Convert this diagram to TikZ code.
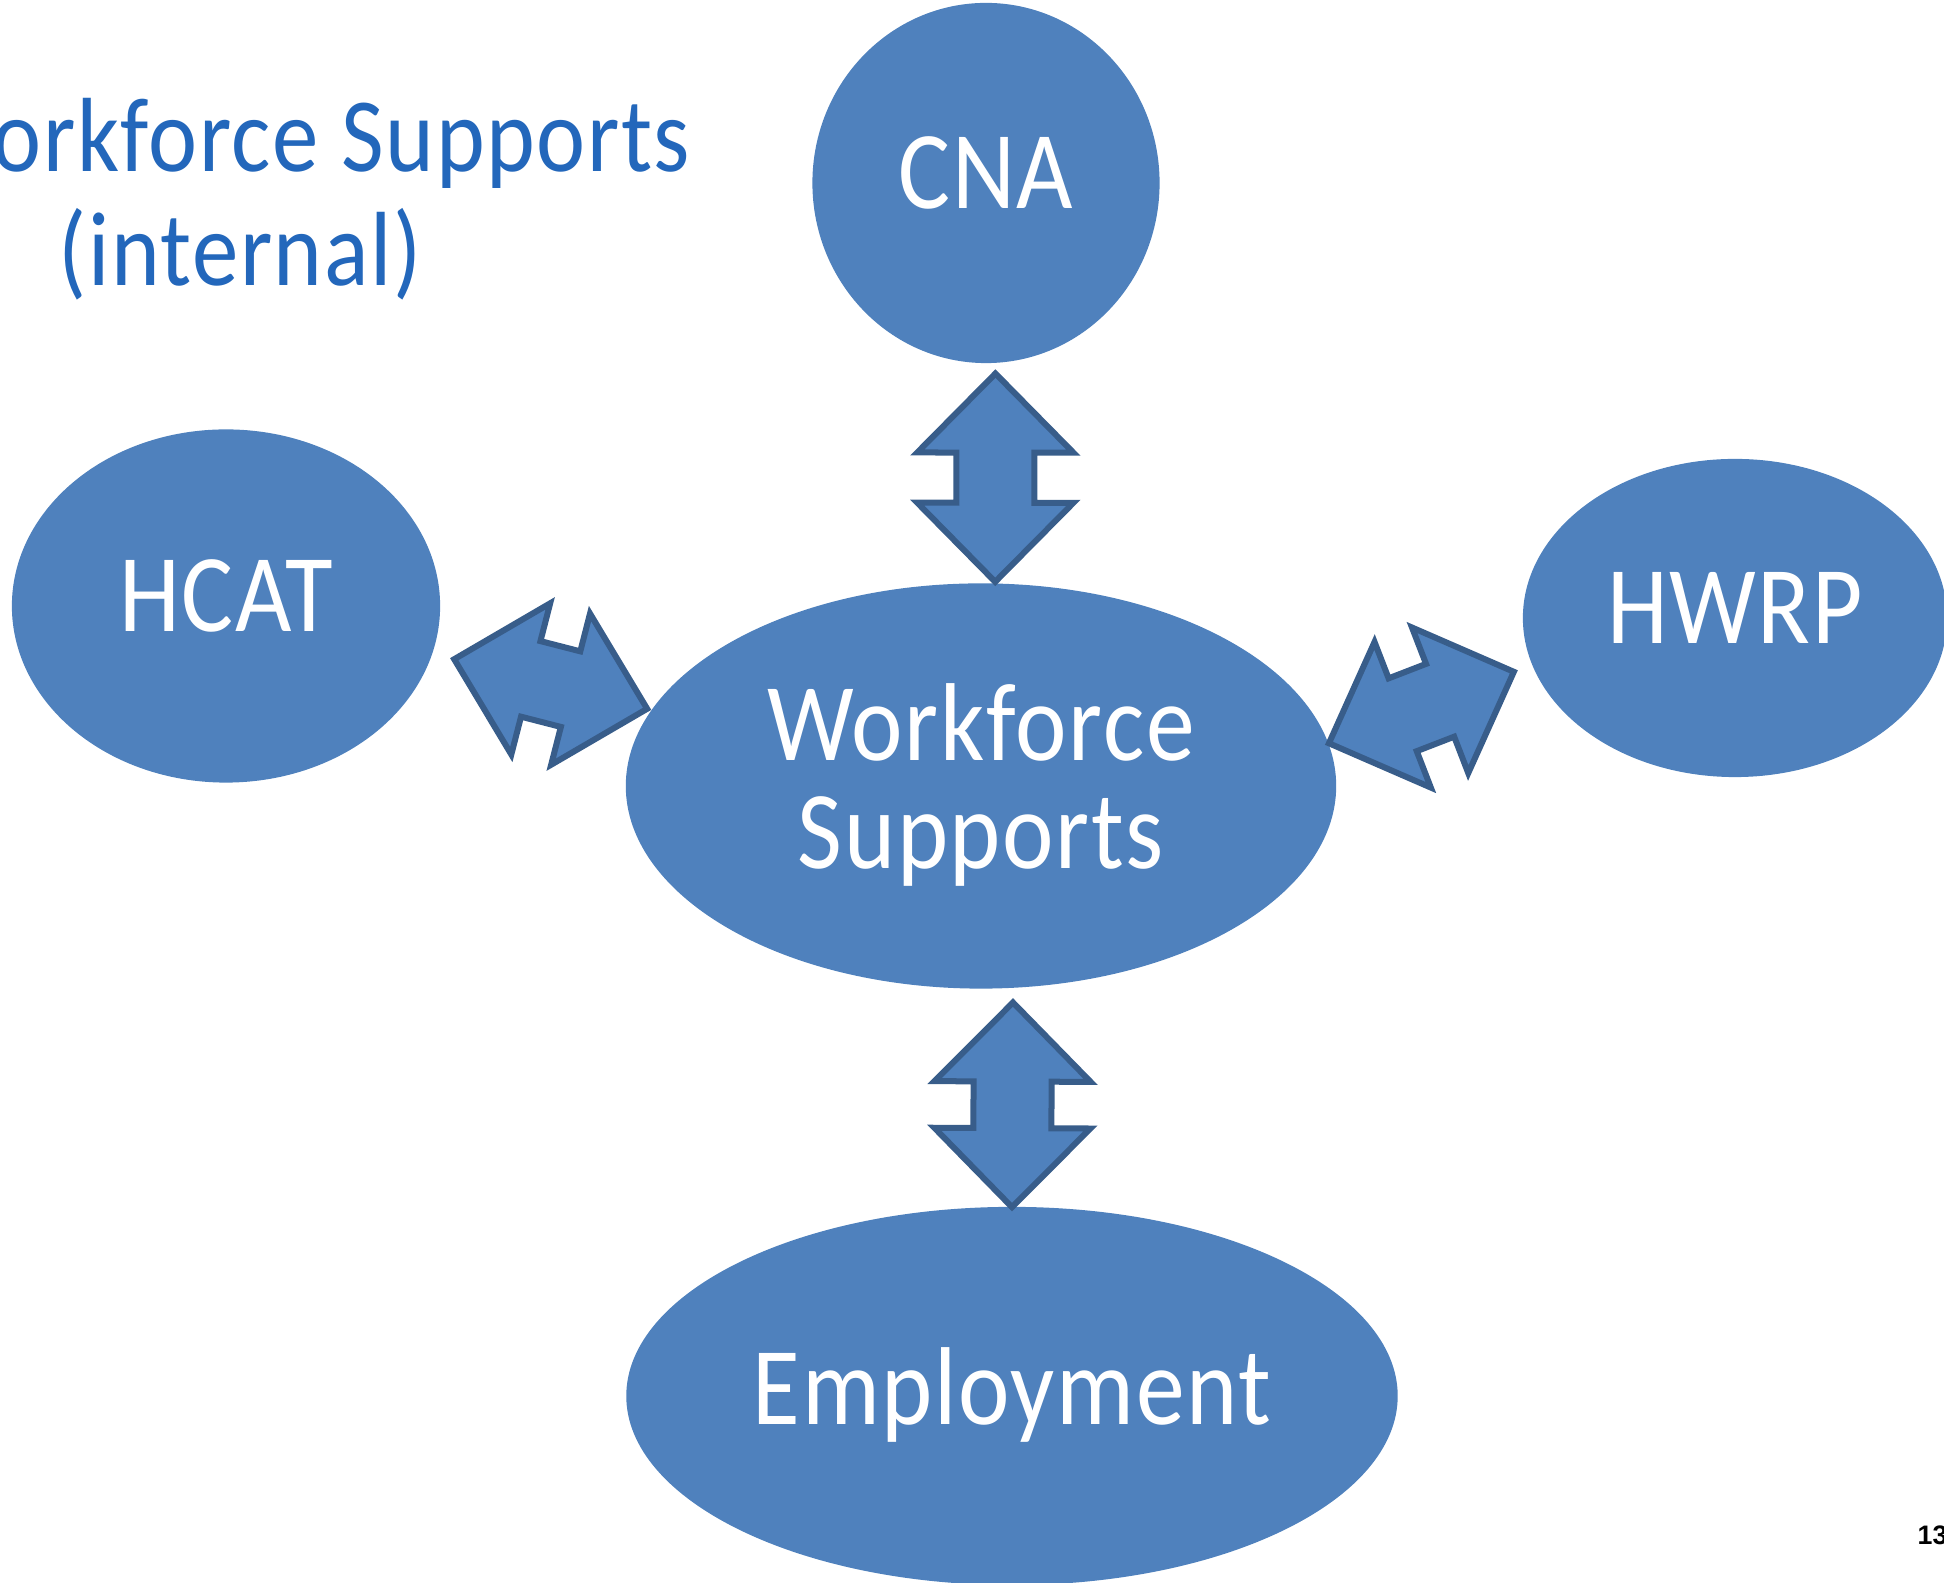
\documentclass[tikz,border=0pt]{standalone}
\usepackage{fontspec}
\setmainfont{Carlito}[FakeStretch=0.88, LetterSpace=1.5]
\newfontfamily\pagefont{Liberation Sans}
\usetikzlibrary{calc,shapes.geometric}
\definecolor{bubbleblue}{RGB}{79,129,189}
\definecolor{arrowedge}{RGB}{56,93,138}
\definecolor{titleblue}{RGB}{35,103,187}
\def\headlen{0.79cm}
\def\headwd{0.78cm}
\def\shaftwd{0.39cm}
\def\blockarrow[#1:#2](#3)(#4){%
	\coordinate (ba) at ($(#3)!#1!(#4)$);
	\coordinate (bb) at ($(#4)!#2!(#3)$);
	\coordinate (ha) at ($(ba)!\headlen!(bb)$);
	\coordinate (hb) at ($(bb)!\headlen!(ba)$);
	\draw[arrowbox] (ba) -- ($(ha)!\headwd!90:(bb)$) -- ($(ha)!\shaftwd!90:(bb)$)
		-- ($(hb)!\shaftwd!-90:(ba)$) -- ($(hb)!\headwd!-90:(ba)$) -- (bb)
		-- ($(hb)!\headwd!90:(ba)$) -- ($(hb)!\shaftwd!90:(ba)$)
		-- ($(ha)!\shaftwd!-90:(bb)$) -- ($(ha)!\headwd!-90:(bb)$) -- cycle;}

\begin{document}
\begin{tikzpicture}[x=0.01cm, y=-0.01cm,
		bubble/.style={ellipse, fill=bubbleblue, inner sep=0pt, text=white, align=center, text depth=0.2cm, font=\fontsize{31.5}{30.7}\selectfont},
		titletext/.style={text=titleblue, inner sep=0pt, font=\fontsize{30}{30}\selectfont},
		arrowbox/.style={fill=bubbleblue, draw=arrowedge, line width=0.06cm}]
			%%%%% START %%%%%
			\useasboundingbox (0, 0) rectangle (1944, 1583);
			
			\node[titletext, anchor=base east] (title) at (691, 172) {Workforce Supports};
			\node[titletext, anchor=base] (subtitle) at (240, 286) {(internal)};
			
			\node[bubble, minimum width=3.47cm, minimum height=3.60cm] (cna) at (986, 183) {CNA};
			\node[bubble, minimum width=4.28cm, minimum height=3.53cm] (hcat) at (226, 606) {HCAT};
			\node[bubble, minimum width=4.24cm, minimum height=3.18cm] (hwrp) at (1735, 618) {HWRP};
			\node[bubble, minimum width=7.10cm, minimum height=4.05cm] (ws) at (981, 786) {Workforce\\Supports};
			\node[bubble, minimum width=7.71cm, minimum height=3.78cm] (emp) at (1012, 1396) {Employment};
			
			\blockarrow[0.10cm:0.01cm](cna.-87)(ws.86)
			\blockarrow[0.14cm:-0.01cm](ws.-81)(emp.north)
			\blockarrow[0.22cm:0.04cm](hcat.-13)(ws.167)
			\blockarrow[0cm:0.19cm](ws.7)(hwrp.193)
			
			\node[anchor=base west, inner sep=0pt, font=\pagefont\bfseries\fontsize{7.6}{7.6}\selectfont] (pagenum) at (1917, 1545) {13};
			%%%%% END %%%%%
\end{tikzpicture}
\end{document}
